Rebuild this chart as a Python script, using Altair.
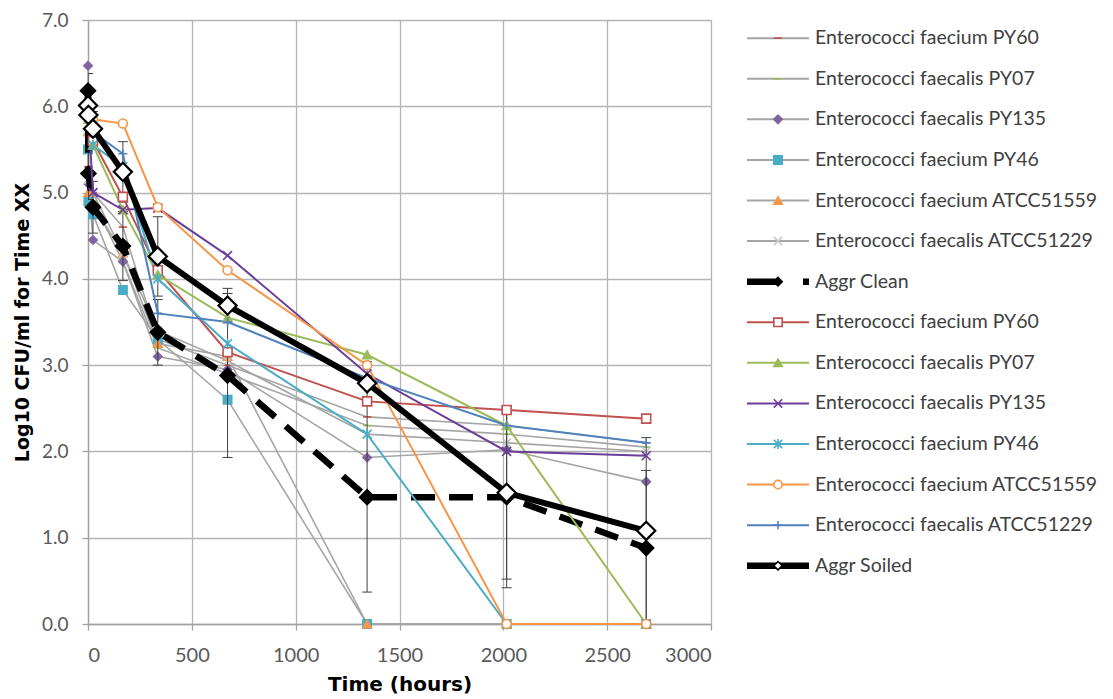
import altair as alt
import pandas as pd

# ---------------- data ----------------
times = [0, 2, 24, 168, 336, 672, 1344, 2016, 2688]

labels = [
    "Enterococci faecium PY60",
    "Enterococci faecalis PY07",
    "Enterococci faecalis PY135",
    "Enterococci faecium PY46",
    "Enterococci faecium ATCC51559",
    "Enterococci faecalis ATCC51229",
]

# clean surfaces (grey lines, coloured markers)
clean_py60 = [6.00, 5.30, 5.00, 4.60, 3.30, 3.00, 2.40, 2.30, 2.10]
clean_py07 = [6.10, 5.10, 4.90, 4.20, 3.20, 2.90, 2.30, 2.20, 2.05]
clean_py135 = [6.47, 5.10, 4.45, 4.20, 3.10, 2.95, 1.93, 2.02, 1.65]
clean_py46 = [5.50, 4.90, 4.75, 3.87, 3.30, 2.60, 0.00, 0.00, 0.00]
clean_atcc51559 = [5.70, 5.00, 4.85, 4.30, 3.25, 3.10, 0.00, 0.00, 0.00]
clean_atcc51229 = [6.00, 5.15, 5.00, 4.30, 3.40, 3.05, 2.20, 2.10, 2.00]
aggr_clean = [6.18, 5.22, 4.83, 4.38, 3.38, 2.88, 1.47, 1.47, 0.88]
aggr_clean_err = [0.20, 0.30, 0.30, 0.40, 0.38, 0.95, 1.10, 1.05, 0.90]

# soiled surfaces (coloured lines)
soiled_py60 = [6.00, 5.90, 5.60, 4.95, 4.10, 3.15, 2.58, 2.48, 2.38]
soiled_py07 = [6.00, 5.85, 5.55, 4.80, 4.05, 3.55, 3.12, 2.30, 0.00]
soiled_py135 = [6.00, 5.90, 5.00, 4.80, 4.82, 4.27, 2.90, 2.00, 1.95]
soiled_py46 = [6.00, 5.90, 5.55, 5.30, 4.00, 3.25, 2.20, 0.00, 0.00]
soiled_atcc51559 = [6.00, 5.95, 5.85, 5.80, 4.83, 4.10, 3.00, 0.00, 0.00]
soiled_atcc51229 = [6.00, 5.90, 5.70, 5.45, 3.60, 3.50, 2.85, 2.30, 2.10]
aggr_soiled = [6.01, 5.90, 5.74, 5.24, 4.26, 3.69, 2.79, 1.52, 1.08]
aggr_soiled_err = [0.15, 0.10, 0.20, 0.35, 0.46, 0.20, 0.25, 1.00, 1.08]

clean_series = [clean_py60, clean_py07, clean_py135, clean_py46, clean_atcc51559, clean_atcc51229]
soiled_series = [soiled_py60, soiled_py07, soiled_py135, soiled_py46, soiled_atcc51559, soiled_atcc51229]

x_ticks = [0, 500, 1000, 1500, 2000, 2500, 3000]
y_ticks = [0, 1, 2, 3, 4, 5, 6, 7]

# ---------------- styles ----------------
PATH_X = "M-1,-1L1,1M-1,1L1,-1"
PATH_PLUS = "M-1,0L1,0M0,-1L0,1"
PATH_STAR = "M-1,-1L1,1M-1,1L1,-1M0,-1.2L0,1.2"

clean_line_color = "#a5a5a5"
clean_marker_color = ["#c0504d", "#9bbb59", "#8064a2", "#4bacc6", "#f79646", "#c8c8c8"]
clean_marker_shape = ["stroke", "stroke", "diamond", "square", "triangle-up", PATH_X]
clean_marker_fill = ["#c0504d", "#9bbb59", "#8064a2", "#4bacc6", "#f79646", "white"]

soiled_color = ["#c0504d", "#9bbb59", "#6a3d9a", "#4bacc6", "#f79646", "#4f81bd"]
soiled_marker_shape = ["square", "triangle-up", PATH_X, PATH_STAR, "circle", PATH_PLUS]
soiled_marker_fill = ["white", "#9bbb59", "white", "white", "white", "white"]

rows = []
for i, vals in enumerate(clean_series):
    for t, v in zip(times, vals):
        rows.append(dict(key=f"c{i}", group="clean", time=t, value=v,
                         line=clean_line_color, shape=clean_marker_shape[i],
                         fill=clean_marker_fill[i], stroke=clean_marker_color[i]))
for i, vals in enumerate(soiled_series):
    for t, v in zip(times, vals):
        rows.append(dict(key=f"s{i}", group="soiled", time=t, value=v,
                         line=soiled_color[i], shape=soiled_marker_shape[i],
                         fill=soiled_marker_fill[i], stroke=soiled_color[i]))
for t, v, e in zip(times, aggr_clean, aggr_clean_err):
    rows.append(dict(key="ac", group="aggr_clean", time=t, value=v, lo=v - e, hi=v + e,
                     line="black", shape="diamond", fill="black", stroke="black"))
for t, v, e in zip(times, aggr_soiled, aggr_soiled_err):
    rows.append(dict(key="as", group="aggr_soiled", time=t, value=v, lo=v - e, hi=v + e,
                     line="black", shape="diamond", fill="white", stroke="black"))
df = pd.DataFrame(rows)

# ---------------- main plot ----------------
W, H = 623, 604
LABEL_FONT = "Lato"
TITLE_FONT = "DejaVu Sans"

x_enc = alt.X("time:Q", scale=alt.Scale(domain=[0, 3000], nice=False),
              axis=alt.Axis(values=x_ticks, format="d", title="Time (hours)",
                            labelFontSize=20, labelPadding=15, titlePadding=9,
                            titleFontSize=20))
y_enc = alt.Y("value:Q", scale=alt.Scale(domain=[0, 7], nice=False),
              axis=alt.Axis(values=y_ticks, format=".1f",
                            title="Log10 CFU/ml for Time XX", labelPadding=14, titlePadding=9,
                            titleFontSize=19))

base = alt.Chart(df)

clean_lines = base.transform_filter(alt.datum.group == "clean").mark_line(
    strokeWidth=1.6, color=clean_line_color).encode(x=x_enc, y=y_enc, detail="key:N")
clean_pts = base.transform_filter(alt.datum.group == "clean").mark_point(
    size=70, strokeWidth=1.6, opacity=1).encode(
    x=x_enc, y=y_enc,
    shape=alt.Shape("shape:N", scale=None),
    fill=alt.Fill("fill:N", scale=None),
    stroke=alt.Stroke("stroke:N", scale=None))

err_base = base.transform_filter(
    (alt.datum.group == "aggr_clean") | (alt.datum.group == "aggr_soiled"))
err_rule = err_base.mark_rule(color="#404040", strokeWidth=1, clip=True).encode(
    x=x_enc, y=alt.Y("lo:Q"), y2="hi:Q")
err_cap_lo = err_base.mark_tick(orient="horizontal", size=10, thickness=1, color="#404040",
                                clip=True, opacity=1).encode(x=x_enc, y=alt.Y("lo:Q"))
err_cap_hi = err_base.mark_tick(orient="horizontal", size=10, thickness=1, color="#404040",
                                clip=True, opacity=1).encode(x=x_enc, y=alt.Y("hi:Q"))

aggr_clean_line = base.transform_filter(alt.datum.group == "aggr_clean").mark_line(
    color="black", strokeWidth=6.5, strokeDash=[24, 14]).encode(x=x_enc, y=y_enc)
aggr_clean_pts = base.transform_filter(alt.datum.group == "aggr_clean").mark_point(
    shape="diamond", filled=True, color="black", size=300, opacity=1).encode(x=x_enc, y=y_enc)

soiled_lines = base.transform_filter(alt.datum.group == "soiled").mark_line(
    strokeWidth=2).encode(x=x_enc, y=y_enc, detail="key:N",
                          color=alt.Color("line:N", scale=None))
soiled_pts = base.transform_filter(alt.datum.group == "soiled").mark_point(
    size=80, strokeWidth=1.6, opacity=1).encode(
    x=x_enc, y=y_enc,
    shape=alt.Shape("shape:N", scale=None),
    fill=alt.Fill("fill:N", scale=None),
    stroke=alt.Stroke("stroke:N", scale=None))

aggr_soiled_line = base.transform_filter(alt.datum.group == "aggr_soiled").mark_line(
    color="black", strokeWidth=6).encode(x=x_enc, y=y_enc)
aggr_soiled_pts = base.transform_filter(alt.datum.group == "aggr_soiled").mark_point(
    shape="diamond", fill="white", stroke="black", strokeWidth=2.2, size=330, opacity=1).encode(
    x=x_enc, y=y_enc)

main = alt.layer(
    clean_lines, clean_pts, err_rule, err_cap_lo, err_cap_hi,
    aggr_clean_line, aggr_clean_pts,
    soiled_lines, soiled_pts,
    aggr_soiled_line, aggr_soiled_pts,
).properties(width=W, height=H)

# ---------------- legend panel ----------------
legend_labels = labels + ["Aggr Clean"] + labels + ["Aggr Soiled"]
legend_kind = ["thin"] * 6 + ["aggr_clean"] + ["thin"] * 6 + ["aggr_soiled"]
legend_line = [clean_line_color] * 6 + ["black"] + soiled_color + ["black"]
legend_shape = clean_marker_shape + ["diamond"] + soiled_marker_shape + ["diamond"]
legend_fill = clean_marker_fill + ["black"] + soiled_marker_fill + ["white"]
legend_stroke = clean_marker_color + ["black"] + soiled_color + ["black"]

leg_df = pd.DataFrame(dict(row=list(range(14)), label=legend_labels, kind=legend_kind,
                           line=legend_line, shape=legend_shape, fill=legend_fill,
                           stroke=legend_stroke))
LW = 360
ROW_PX = 40.58
TOP_OFF = 18.2
y_leg = alt.Y("row:Q", axis=None,
              scale=alt.Scale(domain=[-TOP_OFF / ROW_PX, (H - TOP_OFF) / ROW_PX],
                              reverse=True, nice=False, zero=False))
lb = alt.Chart(leg_df)
leg_thin = lb.transform_filter(alt.datum.kind == "thin").mark_rule(strokeWidth=2).encode(
    x=alt.value(12), x2=alt.value(74), y=y_leg, color=alt.Color("line:N", scale=None))
leg_ac = lb.transform_filter(alt.datum.kind == "aggr_clean").mark_rule(
    strokeWidth=6.5, strokeDash=[32, 24], color="black").encode(
    x=alt.value(12), x2=alt.value(74), y=y_leg)
leg_as = lb.transform_filter(alt.datum.kind == "aggr_soiled").mark_rule(
    strokeWidth=6.5, color="black").encode(x=alt.value(12), x2=alt.value(74), y=y_leg)
leg_pts = lb.mark_point(size=70, strokeWidth=1.6, opacity=1).encode(
    x=alt.value(43), y=y_leg,
    shape=alt.Shape("shape:N", scale=None),
    fill=alt.Fill("fill:N", scale=None),
    stroke=alt.Stroke("stroke:N", scale=None))
leg_txt = lb.mark_text(align="left", baseline="middle", fontSize=19.5, font=LABEL_FONT,
                       color="#404040").encode(x=alt.value(80), y=y_leg, text="label:N")
legend = alt.layer(leg_thin, leg_ac, leg_as, leg_pts, leg_txt).properties(width=LW, height=H)

chart = alt.hconcat(main, legend, spacing=23).configure_view(stroke=None).configure_axis(
    labelFont=LABEL_FONT, labelFontSize=19, labelColor="#595959",
    titleFont=TITLE_FONT, titleFontSize=18, titleFontWeight="bold", titleColor="black",
    gridColor="#b4b4b4", gridWidth=1.3, domainColor="#a0a0a0", domainWidth=1.3,
    tickColor="#a0a0a0", tickSize=6, tickWidth=1.3,
).properties(padding={"left": 5, "top": 3, "right": 5, "bottom": 0})

chart.save("out.html", embed_options={"renderer": "svg", "actions": False})
